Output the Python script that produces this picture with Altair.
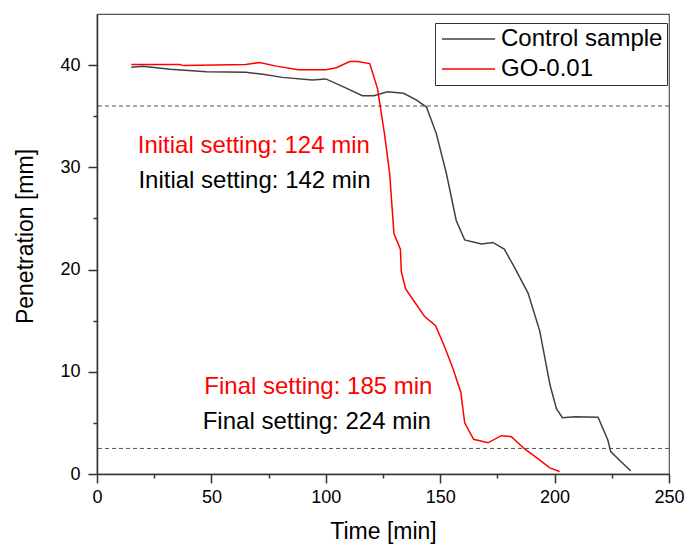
import altair as alt
import pandas as pd

# ---- data ----
ctrl_t = [15, 20, 32, 48, 65, 72.5, 81, 94, 100, 107.5, 116, 121, 127, 134, 139.5, 144,
          148.3, 152.7, 157, 160.7, 168, 173, 178, 183, 188.4, 193.5, 198, 200.8, 203.4,
          209, 219, 223.3, 224.5, 228.4, 233.3]
ctrl_p = [39.8, 39.9, 39.6, 39.35, 39.3, 39.1, 38.8, 38.55, 38.65, 37.9, 37.0, 37.0, 37.4,
          37.25, 36.6, 35.9, 33.3, 29.4, 24.8, 22.9, 22.5, 22.65, 22.0, 20.0, 17.7, 14.0,
          8.7, 6.4, 5.5, 5.6, 5.55, 3.3, 2.2, 1.35, 0.3]

go_t = [15, 36, 38, 65, 71, 78.4, 88, 100, 104.6, 110.4, 114, 119.2, 122.6, 125.7, 127.9,
        129.8, 132.6, 133, 134.9, 138.9, 143.2, 148, 152, 155.6, 159, 160.7, 164.6, 170.9,
        176.7, 181.1, 186.9, 192.7, 197.9, 202.2]
go_p = [40.05, 40.05, 39.95, 40.05, 40.25, 39.9, 39.55, 39.55, 39.75, 40.35, 40.35, 40.15,
        37.7, 33.2, 29.4, 23.5, 22.0, 19.8, 18.1, 16.8, 15.4, 14.5, 12.4, 10.3, 8.0, 5.0,
        3.4, 3.05, 3.75, 3.65, 2.45, 1.5, 0.6, 0.25]

series_names = ["Control sample", "GO-0.01"]
series_colors = ["#404040", "#ff0000"]

thresholds = [36, 2.5]

note_text = ["Initial setting: 124 min", "Initial setting: 142 min",
             "Final setting: 185 min", "Final setting: 224 min"]
note_t = [17.8, 18.1, 46.9, 46.2]
note_p = [31.36, 27.94, 7.79, 4.4]
note_color = ["#ff0000", "#000000", "#ff0000", "#000000"]

FONT = "Liberation Sans"

df = pd.concat([
    pd.DataFrame({"t": ctrl_t, "p": ctrl_p, "series": series_names[0]}),
    pd.DataFrame({"t": go_t, "p": go_p, "series": series_names[1]}),
])
thr_df = pd.DataFrame({"p": thresholds})
notes_df = pd.DataFrame({"text": note_text, "t": note_t, "p": note_p, "c": note_color})

x_scale = alt.Scale(domain=[0, 250], nice=False, zero=False)
y_scale = alt.Scale(domain=[0, 45], nice=False, zero=False)

x_axis = alt.Axis(
    title="Time [min]", values=list(range(0, 251, 25)),
    labelExpr="datum.value % 50 === 0 ? datum.label : ''",
    tickSize={"condition": {"test": "datum.value % 50 === 0", "value": 9}, "value": 4},
    grid=False, labelFont=FONT, labelFontSize=18, labelColor="black", labelFlush=False,
    titleFont=FONT, titleFontSize=23, titleFontWeight="normal", titleColor="black",
    titleX=286, titleY=64, titleBaseline="alphabetic",
    labelPadding=5, domainColor="#333", domainWidth=1.5, tickColor="#333", tickWidth=1.5,
)
y_axis = alt.Axis(
    title="Penetration [mm]", values=list(range(0, 45, 5)),
    labelExpr="datum.value % 10 === 0 ? datum.label : ''",
    tickSize={"condition": {"test": "datum.value % 10 === 0", "value": 9}, "value": 4},
    grid=False, labelFont=FONT, labelFontSize=18, labelColor="black", labelFlush=False,
    titleFont=FONT, titleFontSize=23, titleFontWeight="normal", titleColor="black",
    titleX=-72, titleY=222, titleAngle=270, titleBaseline="middle", titleAlign="center",
    labelPadding=8, domainColor="#333", domainWidth=1.5, tickColor="#333", tickWidth=1.5,
)

lines = alt.Chart(df).mark_line(strokeWidth=1.5).encode(
    x=alt.X("t:Q", scale=x_scale, axis=x_axis),
    y=alt.Y("p:Q", scale=y_scale, axis=y_axis),
    color=alt.Color(
        "series:N",
        scale=alt.Scale(domain=series_names, range=series_colors),
        legend=alt.Legend(
            title=None, orient="none", legendX=338, legendY=9,
            symbolType="M-1,0H4.9", symbolSize=324, symbolStrokeWidth=1.5,
            labelFont=FONT, labelFontSize=24, labelColor="black", labelOffset=38,
            labelLimit=0, strokeColor="#333", fillColor="white", padding=4, rowPadding=6,
            cornerRadius=0,
        ),
    ),
)

rules = alt.Chart(thr_df).mark_rule(color="#555", strokeWidth=1, strokeDash=[4, 3]).encode(
    y=alt.Y("p:Q", scale=y_scale)
)

notes = alt.Chart(notes_df).mark_text(
    align="left", baseline="alphabetic", font=FONT, fontSize=24
).encode(
    x=alt.X("t:Q", scale=x_scale),
    y=alt.Y("p:Q", scale=y_scale),
    text="text:N",
    color=alt.Color("c:N", scale=None),
)

chart = alt.layer(rules, lines, notes).properties(
    width=572, height=460,
    autosize=alt.AutoSizeParams(type="none"),
    padding={"left": 97, "top": 14, "right": 17, "bottom": 70},
    background="white",
).configure_view(stroke="#555", strokeWidth=1.2)

chart.save("out.html", embed_options={"renderer": "svg", "actions": False})
